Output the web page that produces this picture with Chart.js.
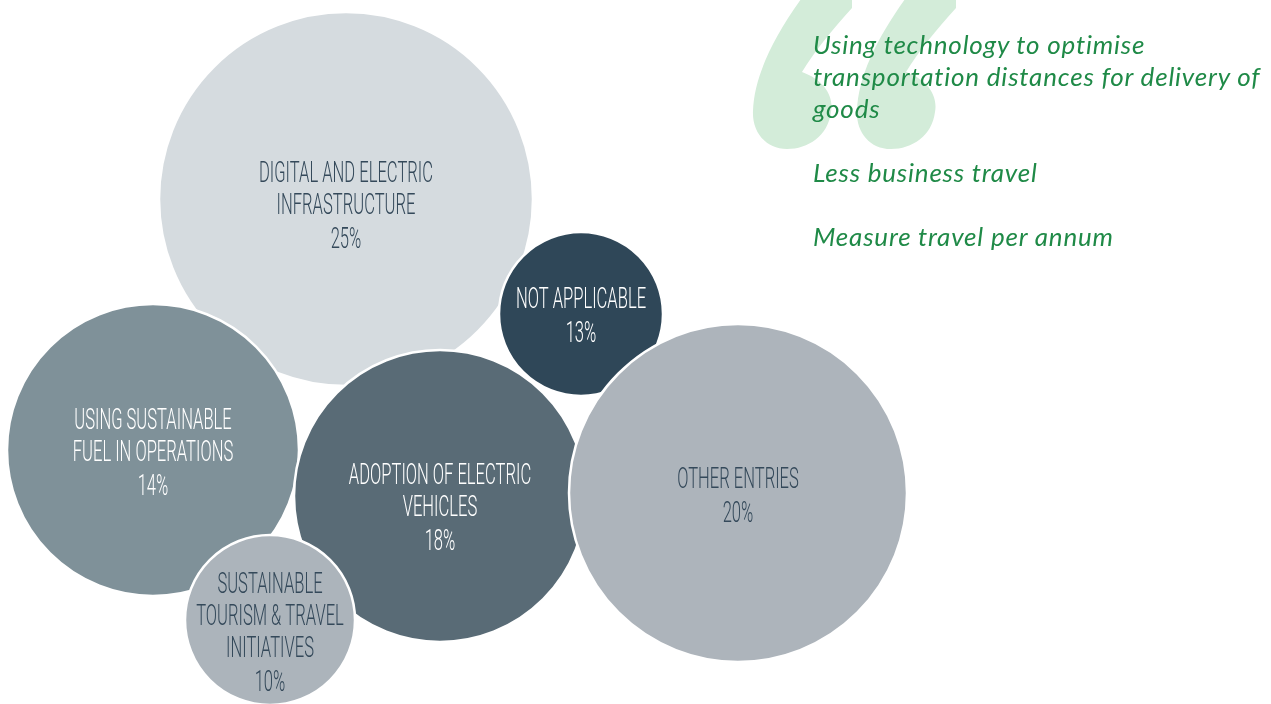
<!DOCTYPE html>
<html>
<head>
<meta charset="utf-8">
<script src="https://cdn.jsdelivr.net/npm/chart.js@4.4.0/dist/chart.umd.min.js"></script>
<style>
  body { margin: 0; background: #fff; overflow: hidden; }
  #wrap { position: relative; width: 1271px; height: 704px; }
  #marks { position: absolute; left: 0; top: 0; }
  #quote {
    position: absolute; left: 813px; top: 28px;
    font: italic 400 26px Lato, sans-serif; color: #1f8a47;
    letter-spacing: 0.8px; line-height: 32px;
  }
  #quote p { margin: 0 0 32px 0; }
</style>
</head>
<body>
<div id="wrap">
  <svg id="marks" width="1271" height="704">
    <g fill="#d3ecd9">
      <path id="q1" d="M804 -5 L852 -5 L852 8 C832 30 814 52 802 72 C824 80 834 96 831 112 C828 136 808 149 787 149 C765 149 752 131 753 111 C754 76 774 36 804 -5 Z"/>
      <use href="#q1" x="104"/>
    </g>
  </svg>
  <canvas id="bubbles" width="1271" height="704" style="position:absolute;left:0;top:0"></canvas>
  <div id="quote">
    <p>Using technology to optimise<br>transportation distances for delivery of<br>goods</p>
    <p>Less business travel</p>
    <p>Measure travel per annum</p>
  </div>
</div>
<script>
// categories, in drawing order (later ones sit on top)
const categories = [
    ['DIGITAL AND ELECTRIC', 'INFRASTRUCTURE'],
    ['USING SUSTAINABLE', 'FUEL IN OPERATIONS'],
    ['ADOPTION OF ELECTRIC', 'VEHICLES'],
    ['NOT APPLICABLE'],
    ['OTHER ENTRIES'],
    ['SUSTAINABLE', 'TOURISM & TRAVEL', 'INITIATIVES']
];
const shares = [25, 14, 18, 13, 20, 10];

// bubble layout (pixel units)
const bubbleX = [346, 153, 440, 581, 738, 270];
const bubbleY = [199, 450, 496, 314, 493, 620];
const bubbleR = [187, 146, 146, 82, 169, 85];

const fills = ['#d5dbdf', '#7f9199', '#596b76', '#2f4758', '#adb4bb', '#acb4bb'];
const textColors = ['#34495a', '#ffffff', '#ffffff', '#ffffff', '#34495a', '#34495a'];
const labelDy = [8, 4, 13, 3, 4, 14];

const LABEL_FONT = '300 29px Roboto, "Liberation Sans Narrow", sans-serif';
const LINE_H = 32;

const bubbleLabels = {
    id: 'bubbleLabels',
    afterDatasetsDraw(chart) {
        const ctx = chart.ctx;
        const meta = chart.getDatasetMeta(0);
        ctx.save();
        ctx.font = LABEL_FONT;
        // condensed look: squeeze so this line is as wide as in the picture
        const squeeze = 174 / ctx.measureText('DIGITAL AND ELECTRIC').width;
        meta.data.forEach((el, i) => {
            const lines = categories[i].concat([shares[i] + '%']);
            const top = el.y + labelDy[i] - (lines.length - 1) * LINE_H / 2;
            ctx.fillStyle = textColors[i];
            ctx.textAlign = 'center';
            ctx.textBaseline = 'middle';
            lines.forEach((line, j) => {
                const extra = j === lines.length - 1 ? 2 : 0;
                ctx.save();
                ctx.translate(el.x, top + j * LINE_H + extra);
                ctx.scale(squeeze, 1);
                ctx.fillText(line, 0, 0);
                ctx.restore();
            });
        });
        ctx.restore();
    }
};

new Chart(document.getElementById('bubbles'), {
    type: 'bubble',
    data: {
        datasets: [{
            data: shares.map((v, i) => ({ x: bubbleX[i], y: bubbleY[i], r: bubbleR[i], v: v })),
            backgroundColor: fills,
            borderColor: '#ffffff',
            borderWidth: 2.5,
            hoverBorderWidth: 2.5,
            clip: false
        }]
    },
    options: {
        responsive: false,
        animation: false,
        layout: { padding: 0, autoPadding: false },
        plugins: { legend: { display: false }, tooltip: { enabled: false } },
        scales: {
            x: { type: 'linear', min: 0, max: 1271, display: false },
            y: { type: 'linear', min: 0, max: 704, reverse: true, display: false }
        }
    },
    plugins: [bubbleLabels]
});
</script>
</body>
</html>
